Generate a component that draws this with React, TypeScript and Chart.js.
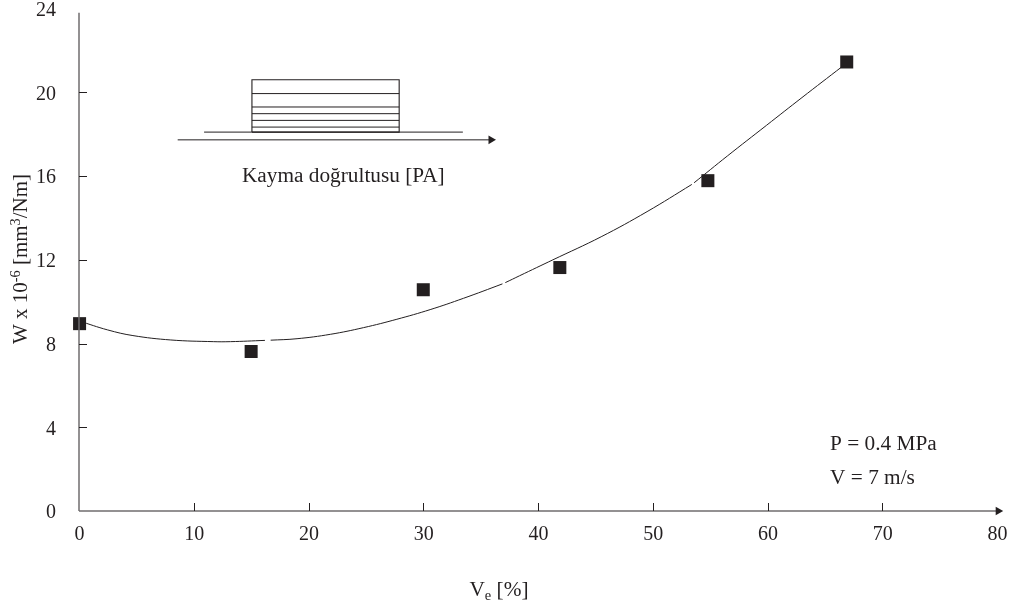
import React, { useEffect, useRef } from "react";
import { Chart, registerables } from "chart.js";

Chart.register(...registerables);

const INK = "#231f20";
const AXIS = "#6f6d6e";
const FONT = "Liberation Serif";

const xTickValues = [0, 10, 20, 30, 40, 50, 60, 70, 80];
const yTickValues = [0, 4, 8, 12, 16, 20, 24];

const measuredX = [0.05, 15, 30, 41.9, 54.8, 66.9];
const measuredY = [8.95, 7.62, 10.57, 11.63, 15.78, 21.45];

const curveX = [0, 2.5, 4.7, 8, 11.7, 13.2, 16.2, 16.7, 19, 21.9, 24.8, 27.7, 30.6, 33.5, 36.9, 37.15, 38.4, 41.3, 45.5, 49.5, 53.4, 53.6, 56.5, 59.9, 63, 66.5];
const curveY = [9.08, 8.65, 8.38, 8.17, 8.09, 8.09, 8.15, 8.16, 8.23, 8.44, 8.76, 9.16, 9.62, 10.16, 10.85, 10.91, 11.24, 12.0, 13.1, 14.3, 15.6, 15.68, 16.96, 18.42, 19.75, 21.23];
const curveGapStarts = [16.2, 36.9, 53.4];

const yAxisX = [0, 0];
const yAxisY = [0, 23.8];
const xAxisX = [0, 80.1];
const xAxisY = [0, 0];

const stackLeft = 15.07;
const stackRight = 27.9;
const stackTop = 20.6;
const stackBottom = 18.1;
const stackLines = [19.94, 19.3, 18.98, 18.66, 18.34];
const baseLineX = [10.9, 33.45];
const baseLineY = [18.1, 18.1];
const arrowX = [8.6, 35.9];
const arrowY = [17.73, 17.73];

const xTitle = [{ t: "V", s: 0 }, { t: "e", s: -1 }, { t: " [%]", s: 0 }];
const yTitle = [
  { t: "W x 10", s: 0 },
  { t: "-6", s: 1 },
  { t: " [mm", s: 0 },
  { t: "3", s: 1 },
  { t: "/Nm]", s: 0 },
];
const notes = [
  { text: "Kayma doğrultusu [PA]", x: 14.2, y: 16.0 },
  { text: "P = 0.4 MPa", x: 65.45, y: 3.17 },
  { text: "V = 7 m/s", x: 65.45, y: 1.55 },
];

const lineSet = (xs: number[], ys: number[], color: string, width: number, extra: any = {}) => ({
  data: xs.map((x, i) => ({ x, y: ys[i] })),
  showLine: true,
  borderColor: color,
  backgroundColor: color,
  borderWidth: width,
  pointRadius: 0,
  clip: false,
  ...extra,
});

const arrowHead = { pointStyle: "triangle", pointRotation: 90, pointRadius: [0, 5], pointBorderWidth: 0 };

function drawRuns(ctx: CanvasRenderingContext2D, runs: { t: string; s: number }[], size: number) {
  const fontOf = (s: number) => `${s ? size * 0.68 : size}px "${FONT}"`;
  let total = 0;
  runs.forEach((r) => {
    ctx.font = fontOf(r.s);
    total += ctx.measureText(r.t).width;
  });
  let cursor = -total / 2;
  ctx.textAlign = "left";
  ctx.textBaseline = "alphabetic";
  runs.forEach((r) => {
    ctx.font = fontOf(r.s);
    ctx.fillText(r.t, cursor, r.s > 0 ? -size * 0.33 : r.s < 0 ? size * 0.2 : 0);
    cursor += ctx.measureText(r.t).width;
  });
}

const decorations = {
  id: "decorations",
  afterDatasetsDraw(chart: any) {
    const { ctx, scales } = chart;
    const { x, y } = scales;
    ctx.save();
    ctx.strokeStyle = INK;
    ctx.lineWidth = 1;
    ctx.beginPath();
    xTickValues.slice(1, -1).forEach((v) => {
      const p = Math.round(x.getPixelForValue(v)) + 0.5;
      ctx.moveTo(p, y.getPixelForValue(0));
      ctx.lineTo(p, y.getPixelForValue(0) - 8);
    });
    yTickValues.slice(1, -1).forEach((v) => {
      const p = Math.round(y.getPixelForValue(v)) + 0.5;
      ctx.moveTo(x.getPixelForValue(0), p);
      ctx.lineTo(x.getPixelForValue(0) + 8, p);
    });
    ctx.stroke();

    ctx.fillStyle = INK;
    ctx.font = `21.3px "${FONT}"`;
    ctx.textAlign = "left";
    ctx.textBaseline = "middle";
    notes.forEach((n) => ctx.fillText(n.text, x.getPixelForValue(n.x), y.getPixelForValue(n.y)));

    ctx.save();
    ctx.translate(499, 596);
    drawRuns(ctx, xTitle, 21.3);
    ctx.restore();

    ctx.save();
    ctx.translate(27, 259);
    ctx.rotate(-Math.PI / 2);
    drawRuns(ctx, yTitle, 21);
    ctx.restore();
    ctx.restore();
  },
};

export default function App() {
  const ref = useRef<HTMLCanvasElement>(null);
  useEffect(() => {
    if (!ref.current) return;
    const stackSets = [
      lineSet([stackLeft, stackLeft, stackRight, stackRight, stackLeft], [stackBottom, stackTop, stackTop, stackBottom, stackBottom], INK, 1.1),
      ...stackLines.map((v) => lineSet([stackLeft, stackRight], [v, v], INK, 1)),
    ];
    const chart = new Chart(ref.current, {
      type: "scatter",
      data: {
        datasets: [
          lineSet(yAxisX, yAxisY, AXIS, 1.5),
          lineSet(xAxisX, xAxisY, AXIS, 1.5, { ...arrowHead, pointBackgroundColor: INK }),
          ...stackSets,
          lineSet(baseLineX, baseLineY, INK, 1),
          lineSet(arrowX, arrowY, INK, 1, arrowHead),
          lineSet(curveX, curveY, INK, 1, {
            tension: 0.4,
            segment: {
              borderColor: (c: any) => (curveGapStarts.includes(c.p0.parsed.x) ? "rgba(0,0,0,0)" : undefined),
            },
          }),
          {
            data: measuredX.map((v, i) => ({ x: v, y: measuredY[i] })),
            pointStyle: "rect",
            pointRadius: 9.2,
            pointBackgroundColor: INK,
            pointBorderWidth: 0,
            clip: false,
          },
        ] as any,
      },
      options: {
        animation: false,
        responsive: false,
        devicePixelRatio: 1,
        layout: { autoPadding: false, padding: { top: 8.6, right: 9.2, left: 0, bottom: 0 } },
        plugins: { legend: { display: false }, tooltip: { enabled: false }, title: { display: false } },
        scales: {
          x: {
            type: "linear",
            min: 0,
            max: 80.5,
            afterFit: (s: any) => { s.height = 97; s.paddingLeft = 0; s.paddingRight = 0; },
            afterBuildTicks: (s: any) => { s.ticks = xTickValues.map((value) => ({ value })); },
            grid: { display: false },
            border: { display: false },
            ticks: { color: INK, font: { family: FONT, size: 20 }, padding: 4, labelOffset: 0.5, maxRotation: 0, autoSkip: false, includeBounds: false },
          },
          y: {
            type: "linear",
            min: 0,
            max: 24,
            afterFit: (s: any) => { s.width = 79; s.paddingTop = 0; s.paddingBottom = 0; },
            afterBuildTicks: (s: any) => { s.ticks = yTickValues.map((value) => ({ value })); },
            grid: { display: false },
            border: { display: false },
            ticks: { color: INK, font: { family: FONT, size: 20 }, padding: 15, labelOffset: 2, autoSkip: false },
          },
        },
      } as any,
      plugins: [decorations],
    });
    return () => chart.destroy();
  }, []);
  return (
    <canvas
      ref={ref}
      width={1012}
      height={608}
      style={{ position: "absolute", left: 0, top: 0, width: 1012, height: 608, display: "block", background: "#fff" }}
    />
  );
}
